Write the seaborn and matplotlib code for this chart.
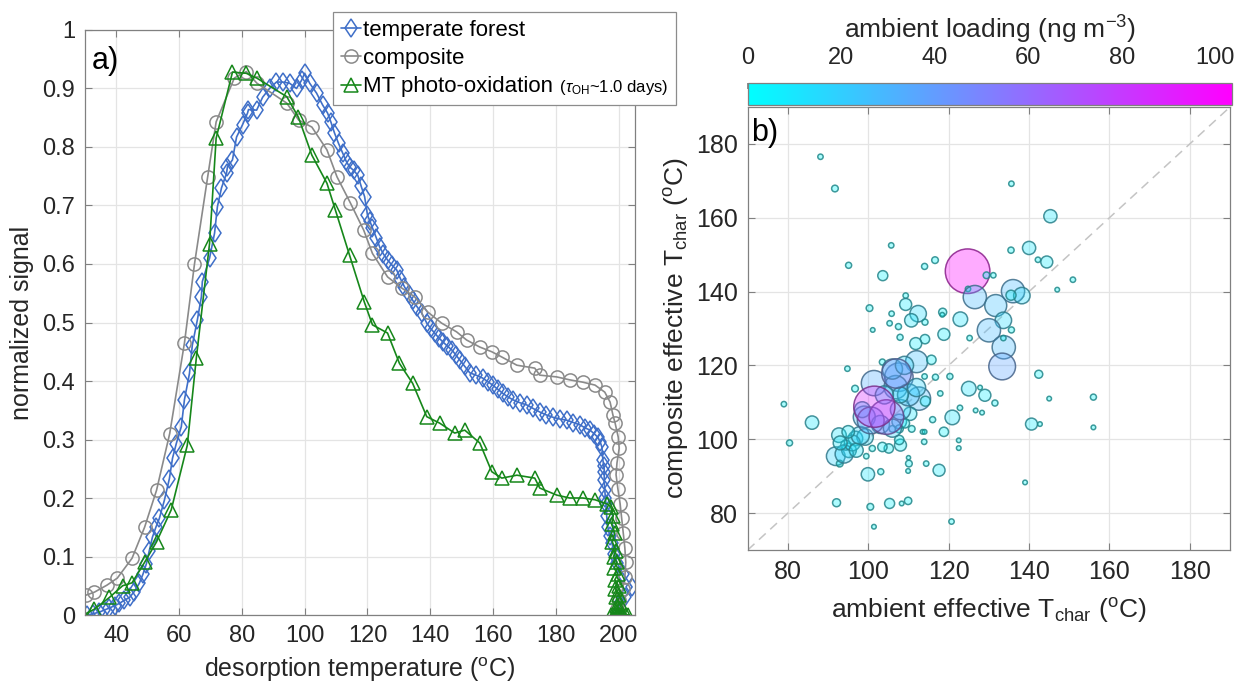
import numpy as np
import pandas as pd
import matplotlib
matplotlib.use("Agg")
import matplotlib.pyplot as plt
import matplotlib as mpl
import seaborn as sns
from matplotlib.ticker import FuncFormatter
from matplotlib.offsetbox import TextArea

# ---------------- panel a data ----------------
forest_T = [30.7, 32.5, 34.6, 36.0, 37.8, 39.5, 41.0, 42.5, 44.2, 45.7, 47.3, 48.5, 49.6, 50.5,
            51.5, 52.6, 53.7, 55.3, 56.9, 57.9, 59.1, 60.7, 61.7, 63.3, 64.2, 65.8, 67.1, 67.4,
            69.7, 71.3, 72.2, 73.5, 75.1, 75.4, 77.0, 78.3, 80.2, 81.8, 82.1, 84.7, 86.6, 88.8,
            91.0, 93.0, 95.2, 97.4, 99.0, 100.0, 101.6, 103.8, 105.7, 107.3, 108.4, 109.5, 110.8,
            112.1, 113.2, 114.3, 115.6, 116.9, 118.0, 119.1, 120.0, 120.8, 121.6, 122.8, 123.9,
            125.1, 126.4, 127.8, 129.3, 130.5, 131.8, 133.1, 134.4, 135.8, 137.3, 138.9, 140.1,
            141.4, 142.7, 144.0, 145.4, 146.9, 148.1, 149.4, 151.0, 152.6, 154.6, 156.7, 158.3,
            159.9, 161.5, 163.1, 164.7, 166.3, 168.5, 170.8, 172.8, 174.9, 177.0, 179.1, 181.3,
            183.5, 185.6, 187.7, 189.3, 190.9, 192.2, 193.4, 194.2, 194.7, 195.0, 195.3, 195.5,
            195.4, 195.6, 195.8, 196.0, 196.2, 196.6, 197.2, 197.9, 198.6, 199.5, 201.5, 204.3,
            202.0, 200.5, 200.0]
forest_S = [0.000, 0.002, 0.005, 0.008, 0.012, 0.016, 0.020, 0.025, 0.030, 0.040, 0.054, 0.070,
            0.088, 0.110, 0.133, 0.150, 0.165, 0.196, 0.233, 0.268, 0.293, 0.322, 0.368, 0.413,
            0.461, 0.504, 0.544, 0.570, 0.610, 0.653, 0.698, 0.730, 0.755, 0.766, 0.778, 0.817,
            0.838, 0.858, 0.864, 0.863, 0.885, 0.900, 0.911, 0.911, 0.909, 0.900, 0.914, 0.926,
            0.909, 0.892, 0.872, 0.858, 0.842, 0.824, 0.806, 0.790, 0.776, 0.766, 0.760, 0.752,
            0.733, 0.715, 0.684, 0.673, 0.662, 0.645, 0.629, 0.617, 0.607, 0.598, 0.590, 0.575,
            0.561, 0.549, 0.538, 0.527, 0.516, 0.499, 0.490, 0.482, 0.474, 0.467, 0.460, 0.453,
            0.445, 0.436, 0.425, 0.414, 0.410, 0.405, 0.399, 0.393, 0.386, 0.379, 0.373, 0.368,
            0.363, 0.359, 0.353, 0.347, 0.342, 0.338, 0.335, 0.333, 0.329, 0.325, 0.320, 0.316,
            0.310, 0.304, 0.295, 0.287, 0.265, 0.255, 0.245, 0.230, 0.214, 0.200, 0.190, 0.170,
            0.150, 0.135, 0.123, 0.105, 0.089, 0.070, 0.048, 0.030, 0.020, 0.000]

composite_T = [30.4, 33.0, 37.0, 40.3, 45.0, 49.0, 52.8, 57.0, 61.7, 64.9, 69.1, 71.8, 77.6,
               81.4, 84.8, 94.3, 98.1, 102.3, 107.1, 110.3, 114.6, 118.8, 121.6, 126.4, 130.9,
               135.0, 139.2, 143.6, 148.4, 151.6, 155.8, 159.6, 162.8, 167.6, 173.3, 174.9,
               180.3, 184.4, 188.6, 192.5, 195.6, 197.3, 198.2, 198.9, 199.9, 200.2, 199.5,
               199.2, 199.8, 200.5, 201.0, 201.5, 202.0, 202.3, 202.0, 201.3, 200.3, 199.5]
composite_S = [0.034, 0.039, 0.051, 0.063, 0.097, 0.150, 0.213, 0.310, 0.465, 0.600, 0.749,
               0.843, 0.918, 0.929, 0.909, 0.875, 0.846, 0.834, 0.795, 0.749, 0.704, 0.658,
               0.618, 0.578, 0.559, 0.544, 0.518, 0.499, 0.484, 0.470, 0.458, 0.450, 0.441,
               0.427, 0.422, 0.410, 0.407, 0.402, 0.398, 0.393, 0.381, 0.364, 0.342, 0.328,
               0.304, 0.285, 0.260, 0.240, 0.215, 0.190, 0.165, 0.140, 0.115, 0.090, 0.065,
               0.045, 0.025, 0.010]

mt_T = [29.5, 33.0, 37.8, 42.0, 45.0, 49.0, 52.8, 57.5, 62.6, 65.5, 69.7, 71.8, 77.0, 81.4,
        84.7, 94.3, 98.0, 102.3, 107.1, 109.8, 114.3, 119.0, 121.6, 126.4, 130.2, 134.4, 138.9,
        143.0, 147.8, 151.0, 155.8, 159.6, 162.8, 167.6, 173.3, 174.9, 180.3, 184.4, 188.6,
        192.5, 196.3, 197.5, 198.3, 197.8, 198.8, 198.0, 199.2, 198.4, 199.5, 198.6, 199.8,
        198.8, 200.0, 199.0, 200.3, 199.2, 200.5, 199.4, 200.6, 199.6, 200.8, 199.8, 201.5,
        198.5, 202.3, 197.5, 203.0, 200.2]
mt_S = [0.000, 0.010, 0.030, 0.050, 0.055, 0.090, 0.125, 0.180, 0.290, 0.440, 0.635, 0.815,
        0.928, 0.926, 0.918, 0.886, 0.851, 0.786, 0.738, 0.692, 0.615, 0.535, 0.496, 0.482,
        0.430, 0.396, 0.339, 0.328, 0.311, 0.316, 0.294, 0.245, 0.234, 0.239, 0.234, 0.217,
        0.205, 0.200, 0.200, 0.197, 0.190, 0.185, 0.170, 0.155, 0.140, 0.125, 0.110, 0.100,
        0.090, 0.080, 0.070, 0.060, 0.050, 0.045, 0.035, 0.030, 0.020, 0.015, 0.010, 0.005,
        0.000, 0.000, 0.000, 0.000, 0.000, 0.000, 0.000, 0.000]

# ---------------- panel b data ----------------
ambient_T = [88.1, 91.7, 135.6, 145.3, 105.7, 140.0, 135.5, 142.2, 144.4, 95.1, 116.6, 114.0,
             103.6, 124.7, 129.4, 131.1, 150.9, 147.0, 136.0, 138.2, 135.5, 124.8, 126.5, 131.7,
             133.6, 135.6, 130.0, 133.7, 133.3, 133.6, 122.9, 118.5, 118.4, 118.8, 125.2, 109.3,
             109.3, 112.4, 110.7, 114.1, 100.3, 105.8, 105.3, 107.5, 101.1, 107.9, 114.1, 111.8,
             112.0, 115.7, 103.5, 94.8, 120.3, 116.7, 114.0, 142.4, 101.4, 107.6, 96.7, 125.0,
             129.0, 127.8, 156.0, 145.0, 79.0, 86.0, 80.4, 131.5, 126.7, 128.3, 122.8, 120.9,
             140.6, 142.7, 156.0, 116.0, 118.8, 113.5, 114.0, 113.9, 122.5, 122.5, 117.6, 114.4,
             110.1, 109.9, 110.0, 108.0, 107.7, 105.1, 103.5, 101.0, 99.5, 103.1, 99.9, 92.1,
             100.5, 105.3, 108.3, 109.9, 101.4, 120.7, 139.0, 91.9, 92.9, 92.7, 95.2, 96.8,
             99.2, 94.4, 112.6, 114.2, 117.9, 106.8, 110.4, 107.7, 109.1, 110.8, 106.0, 107.7,
             94.0, 96.0, 98.0, 97.0, 93.0, 95.0, 99.0, 103.0, 106.0, 108.0, 110.0, 112.0,
             108.0, 104.0, 106.0, 109.0, 98.5,
             100.6, 107.0, 104.5, 101.5]
composite_Tchar = [176.5, 167.9, 169.2, 160.4, 152.5, 151.8, 151.2, 148.6, 148.0, 147.1, 148.5,
                   146.8, 144.3, 145.5, 144.4, 144.4, 143.2, 140.5, 140.1, 138.9, 139.0, 140.7,
                   138.5, 136.2, 132.2, 129.6, 129.5, 124.9, 119.7, 127.4, 132.5, 134.4, 133.7,
                   128.4, 127.4, 138.9, 136.5, 134.0, 132.2, 131.7, 135.5, 134.0, 131.4, 130.5,
                   129.6, 127.6, 127.1, 125.9, 121.0, 121.5, 120.9, 119.1, 117.0, 116.8, 117.0,
                   117.6, 115.2, 116.8, 113.7, 113.7, 111.9, 114.0, 111.4, 111.0, 109.5, 104.5,
                   99.0, 109.8, 107.8, 107.2, 108.5, 105.9, 104.1, 104.1, 103.2, 105.3, 102.0,
                   102.0, 102.0, 99.3, 99.7, 97.6, 91.6, 93.4, 93.4, 91.4, 95.0, 98.4, 99.8, 97.5,
                   97.9, 97.5, 95.4, 91.2, 90.5, 82.8, 81.7, 82.6, 82.6, 83.3, 76.3, 77.7, 88.3,
                   95.4, 93.4, 101.1, 97.0, 100.2, 100.6, 98.4, 111.0, 110.3, 112.4, 114.1, 106.9,
                   104.8, 104.3, 102.8, 102.8, 102.8,
                   96.0, 99.0, 101.0, 97.0, 99.0, 102.0, 106.0, 104.0, 103.0, 108.0, 112.0, 114.0,
                   112.0, 112.0, 119.0, 120.0, 108.0,
                   105.1, 117.8, 106.0, 108.8]
ambient_loading = [1.5, 2.3, 1.5, 9.0, 1.5, 9.0, 2.0, 1.5, 7.4, 1.9, 2.3, 1.9, 5.2, 103.0, 2.3,
                   1.5, 1.5, 1.1, 28.0, 14.0, 5.2, 1.5, 28.0, 25.0, 14.0, 1.9, 28.0, 28.0, 37.0,
                   1.5, 11.0, 3.3, 1.1, 7.4, 1.5, 1.5, 7.4, 14.0, 9.2, 1.9, 2.3, 1.5, 1.5, 1.9,
                   1.1, 1.9, 4.5, 7.4, 25.0, 4.5, 1.9, 1.5, 1.9, 1.9, 1.5, 3.3, 33.0, 42.0, 2.3,
                   11.0, 7.4, 1.1, 1.9, 1.1, 1.5, 9.2, 1.9, 1.9, 1.1, 1.1, 1.5, 11.0, 7.4, 1.1,
                   1.1, 1.9, 4.5, 1.1, 1.1, 1.5, 1.1, 1.1, 7.4, 1.5, 2.3, 1.1, 0.9, 7.4, 4.5,
                   4.5, 4.5, 1.9, 1.5, 1.9, 9.2, 3.3, 2.3, 5.2, 1.1, 2.8, 1.1, 1.5, 1.1, 18.0,
                   2.3, 11.0, 11.0, 11.0, 14.0, 5.2, 28.0, 5.2, 1.5, 28.0, 9.2, 11.0, 4.5, 2.3,
                   2.3, 3.3,
                   17.0, 13.0, 17.0, 10.0, 10.0, 8.0, 25.0, 17.0, 17.0, 21.0, 25.0, 17.0,
                   13.0, 17.0, 21.0, 17.0, 13.0,
                   37.0, 45.0, 62.0, 88.0]

x_ticks_a = [40, 60, 80, 100, 120, 140, 160, 180, 200]
y_ticks_a = [0, 0.1, 0.2, 0.3, 0.4, 0.5, 0.6, 0.7, 0.8, 0.9, 1.0]
ticks_b = [80, 100, 120, 140, 160, 180]
cbar_ticks = [0, 20, 40, 60, 80, 100]
cbar_range = [0, 103.5]
limits_b = [70, 190]

labels = ["temperate forest", "composite", "MT photo-oxidation"]
label_note = r" ($\tau_{\mathrm{OH}}$~1.0 days)"

# ---------------- style ----------------
sns.set_theme(style="whitegrid")
plt.rcParams['font.family'] = ['Liberation Sans', 'DejaVu Sans']
plt.rcParams['mathtext.fontset'] = 'custom'
plt.rcParams['mathtext.rm'] = 'Liberation Sans'
plt.rcParams['mathtext.it'] = 'Liberation Sans:italic'
plt.rcParams['mathtext.bf'] = 'Liberation Sans:bold'

SPINE = '#808080'
GRID = '#e4e4e4'
TXT = '#262626'

fig = plt.figure(figsize=(12.4, 6.88), dpi=100)
axa = fig.add_axes([0.0685, 0.1061, 0.4435, 0.8503])
axb = fig.add_axes([0.603, 0.2006, 0.389, 0.644])
cax = fig.add_axes([0.603, 0.847, 0.3903, 0.032])

def style_axes(ax, size):
    ax.set_facecolor('white')
    ax.grid(True, color=GRID, linewidth=0.9)
    for s in ax.spines.values():
        s.set_color(SPINE)
        s.set_linewidth(0.9)
        s.set_visible(True)
    ax.tick_params(direction='in', length=5, width=0.8, color=SPINE, labelcolor=TXT,
                   labelsize=size, top=True, right=True, bottom=True, left=True, pad=7)
    ax.set_axisbelow(True)

# ---------------- panel a ----------------
blue = '#3f6fc8'
gray = '#8a8a8a'
green = '#16871a'
series = [
    (forest_T, forest_S, blue, 'd', 9.5),
    (composite_T, composite_S, gray, 'o', 9.5),
    (mt_T, mt_S, green, '^', 10),
]
for (xv, yv, c, m, ms), lab in zip(series, labels):
    df = pd.DataFrame({"T": xv, "S": yv})
    sns.lineplot(data=df, x="T", y="S", ax=axa, sort=False, estimator=None, color=c,
                 linewidth=1.2, marker=m, markersize=ms, markerfacecolor='none',
                 markeredgecolor=c, markeredgewidth=1.1, label=lab, legend=False)

style_axes(axa, 17)
axa.set_xlim(30, 205.2)
axa.set_ylim(0, 1)
axa.set_xticks(x_ticks_a)
axa.set_yticks(y_ticks_a)
axa.yaxis.set_major_formatter(FuncFormatter(lambda v, p: f"{v:g}"))
axa.set_xlabel(r"desorption temperature ($^{\mathrm{o}}$C)", fontsize=18, color=TXT, labelpad=6)
axa.set_ylabel("normalized signal", fontsize=18, color=TXT, labelpad=6)
axa.text(0.012, 0.972, "a)", transform=axa.transAxes, fontsize=22, va='top', ha='left', color='black')

handles, _ = axa.get_legend_handles_labels()
leg = axa.legend(handles, labels, loc='upper left',
                 bbox_to_anchor=(333 / 1240, 1 - 12 / 688), bbox_transform=fig.transFigure,
                 borderaxespad=0, frameon=True, fancybox=False, framealpha=1,
                 edgecolor='#8c8c8c', fontsize=16, handlelength=0.9, handletextpad=0.1,
                 labelspacing=0.33, borderpad=0.35)
leg.get_frame().set_linewidth(0.9)
for t in leg.get_texts():
    t.set_color('black')
# smaller parenthetical note appended to the third legend entry
rows = leg._legend_handle_box.get_children()[0].get_children()
note = TextArea(label_note, textprops=dict(fontsize=12, color='black'))
rows[2].get_children().append(note)
leg._legend_box.set_figure(fig)
note.set_figure(fig)

# ---------------- panel b ----------------
dfb = pd.DataFrame({"amb": ambient_T, "comp": composite_Tchar, "load": ambient_loading})
axb.plot(limits_b, limits_b, ls=(0, (6, 4)), color='#c4c4c4', lw=1.1, zorder=1)
sns.scatterplot(data=dfb, x="amb", y="comp", hue="load", size="load", palette="cool",
                hue_norm=tuple(cbar_range), sizes=(0, 1035), size_norm=tuple(cbar_range),
                legend=False, ax=axb, linewidth=1.1, zorder=3)
coll = axb.collections[-1]
fc = np.array(coll.get_facecolors())
ec = fc.copy()
ec[:, :3] = fc[:, :3] * 0.42 + 0.12
ec[:, 3] = 0.85
fc[:, 3] = 0.33
coll.set_facecolors(fc)
coll.set_edgecolors(ec)

style_axes(axb, 18)
axb.set_xlim(*limits_b)
axb.set_ylim(*limits_b)
axb.set_xticks(ticks_b)
axb.set_yticks(ticks_b)
axb.set_xlabel(r"ambient effective T$_{\mathrm{char}}$ ($^{\mathrm{o}}$C)", fontsize=19,
               color=TXT, labelpad=9)
axb.set_ylabel(r"composite effective T$_{\mathrm{char}}$ ($^{\mathrm{o}}$C)", fontsize=19,
               color=TXT, labelpad=4)
axb.text(0.008, 0.975, "b)", transform=axb.transAxes, fontsize=22, va='top', ha='left', color='black')

# ---------------- colorbar ----------------
sm = mpl.cm.ScalarMappable(cmap='cool', norm=mpl.colors.Normalize(*cbar_range))
cb = fig.colorbar(sm, cax=cax, orientation='horizontal')
cb.set_ticks(cbar_ticks)
cax.xaxis.set_ticks_position('top')
cax.xaxis.set_label_position('top')
cax.tick_params(direction='in', length=4, color=SPINE, labelsize=17, labelcolor=TXT, pad=10)
cb.outline.set_edgecolor(SPINE)
cb.outline.set_linewidth(0.9)
cb.set_label(r"ambient loading (ng m$^{-3}$)", fontsize=19, color=TXT, labelpad=6)

fig.savefig("out.png", dpi=100)
